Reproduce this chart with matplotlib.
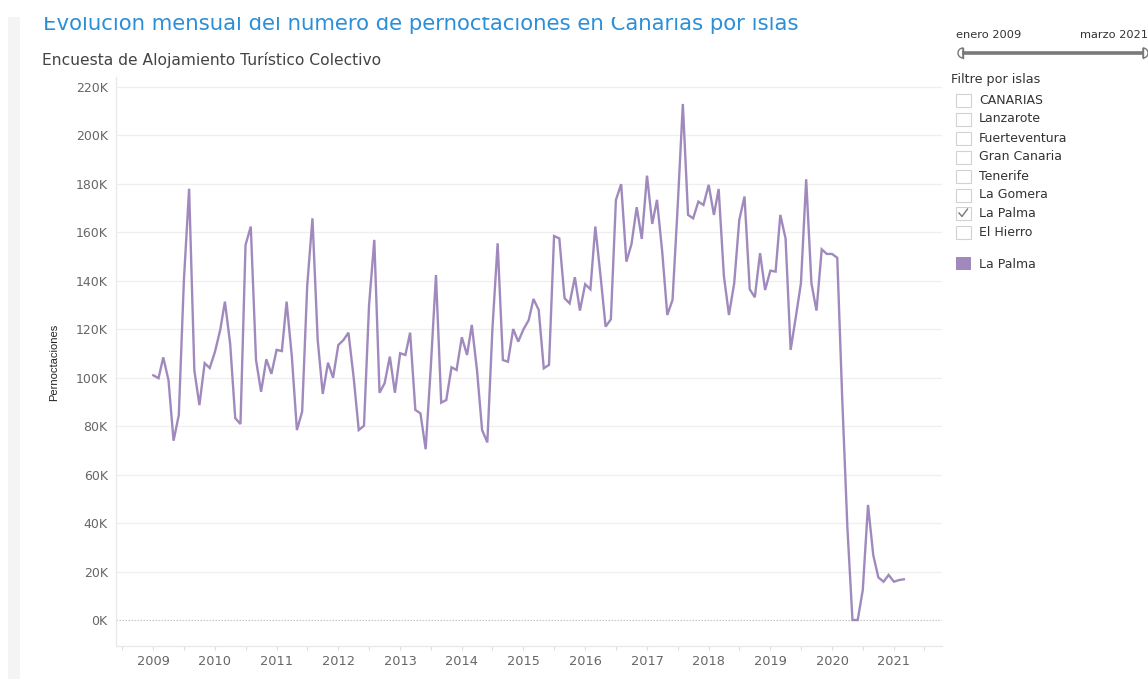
import matplotlib
matplotlib.use("Agg")
import matplotlib.pyplot as plt
import matplotlib.dates as mdates
from matplotlib.patches import Rectangle, Wedge
from matplotlib.ticker import FixedLocator, FuncFormatter
import numpy as np
import pandas as pd
from datetime import datetime

# ---------------- data (thousands of overnight stays, La Palma) ----------------
y2009 = [101.0, 99.8, 108.4, 99.0, 74.0, 84.6, 140.0, 178.0, 103.0, 88.7, 106.0, 104.0]
y2010 = [110.7, 119.7, 131.4, 114.0, 83.3, 80.9, 154.8, 162.4, 107.3, 94.2, 107.6, 101.6]
y2011 = [111.5, 111.0, 131.4, 108.7, 78.4, 86.0, 138.0, 165.8, 115.6, 93.3, 106.2, 100.0]
y2012 = [113.5, 115.6, 118.6, 100.0, 78.4, 80.2, 130.0, 156.9, 93.8, 97.7, 108.7, 93.8]
y2013 = [110.1, 109.4, 118.6, 86.7, 85.3, 70.5, 104.0, 142.4, 89.7, 90.8, 104.3, 103.2]
y2014 = [116.7, 109.4, 121.8, 103.0, 78.4, 73.3, 120.0, 155.5, 107.3, 106.6, 120.1, 114.9]
y2015 = [120.0, 123.8, 132.5, 128.0, 103.9, 105.3, 158.5, 157.5, 132.8, 130.7, 141.5, 127.7]
y2016 = [138.6, 136.5, 162.4, 142.0, 121.1, 124.1, 173.4, 179.9, 147.9, 155.1, 170.4, 157.3]
y2017 = [183.4, 163.5, 173.4, 152.0, 125.9, 132.1, 170.0, 213.0, 167.2, 165.8, 172.7, 171.3]
y2018 = [179.6, 167.2, 177.9, 142.0, 125.9, 139.0, 165.1, 174.8, 136.5, 133.2, 151.4, 136.2]
y2019 = [144.2, 143.8, 167.2, 157.5, 111.5, 125.2, 139.0, 181.9, 139.0, 127.7, 153.0, 151.1]
y2020 = [151.1, 149.5, 92.0, 38.0, 0.0, 0.0, 12.4, 47.5, 26.8, 17.6, 15.8, 18.6]
y2021 = [15.8, 16.5, 16.8]

values = np.array(y2009 + y2010 + y2011 + y2012 + y2013 + y2014 + y2015 +
                  y2016 + y2017 + y2018 + y2019 + y2020 + y2021) * 1000
months = pd.date_range("2009-01-01", periods=len(values), freq="MS")

year_labels = [str(y) for y in range(2009, 2022)]
y_ticks = list(range(0, 220001, 20000))
islands = ["CANARIAS", "Lanzarote", "Fuerteventura", "Gran Canaria",
           "Tenerife", "La Gomera", "La Palma", "El Hierro"]
checked = "La Palma"
series_name = "La Palma"

title = "Evolución mensual del número de pernoctaciones en Canarias por islas"
subtitle = "Encuesta de Alojamiento Turístico Colectivo"
y_label = "Pernoctaciones"
range_start = "enero 2009"
range_end = "marzo 2021"
filter_title = "Filtre por islas"

LINE = "#a08abd"
W, H = 1148, 679

plt.rcParams["font.family"] = ["DejaVu Sans"]
fig = plt.figure(figsize=(W / 100, H / 100), dpi=100)
fig.patch.set_facecolor("white")

# ---------------- main chart ----------------
ax_l, ax_r, ax_t, ax_b = 116, 941.7, 77, 646
ax = fig.add_axes([ax_l / W, 1 - ax_b / H, (ax_r - ax_l) / W, (ax_b - ax_t) / H])
ax.plot(months, values, color=LINE, lw=1.7, solid_joinstyle="miter", zorder=3)

t0 = mdates.date2num(datetime(2009, 1, 1))
mlen = 365.25 / 12
ax.set_xlim(t0 - 7.25 * mlen, t0 + 153.3 * mlen)
px_per_unit = (620 - 87) / 220000.0
ax.set_ylim(-(ax_b - 620) / px_per_unit, (620 - ax_t) / px_per_unit)

major = [mdates.date2num(datetime(int(y), 1, 1)) for y in year_labels]
minor = [mdates.date2num(datetime(y, 7, 1)) for y in range(2008, 2022)]
ax.xaxis.set_major_locator(FixedLocator(major))
ax.xaxis.set_minor_locator(FixedLocator(minor))
ax.set_xticklabels(year_labels)
ax.tick_params(axis="x", which="both", length=3.2, width=0.8, color="#dddddd",
               direction="out", labelsize=9.3, labelcolor="#666666", pad=3.5)

ax.set_yticks(y_ticks)
ax.yaxis.set_major_formatter(FuncFormatter(lambda v, p: f"{int(round(v / 1000))}K"))
ax.tick_params(axis="y", length=0, labelsize=9, labelcolor="#666666", pad=6)

for v in y_ticks[1:]:
    ax.axhline(v, color="#efefef", lw=0.9, zorder=1)
ax.axhline(0, color="#bdbdbd", lw=0.8, ls=(0, (1.2, 1.5)), zorder=2)

for s in ["top", "right"]:
    ax.spines[s].set_visible(False)
for s in ["left", "bottom"]:
    ax.spines[s].set_color("#e8e8e8")
    ax.spines[s].set_linewidth(0.9)

ax.set_ylabel(y_label, family="Liberation Sans", fontsize=8, color="#222222")
ax.yaxis.set_label_coords((59 - ax_l) / (ax_r - ax_l), (ax_b - 362) / (ax_b - ax_t))

# ---------------- overlay (pixel coordinates) ----------------
ov = fig.add_axes([0, 0, 1, 1], zorder=5)
ov.set_xlim(0, W)
ov.set_ylim(H, 0)
ov.axis("off")
ov.patch.set_alpha(0)

# left grey strip
ov.add_patch(Rectangle((8, 17), 12, H - 17, color="#f4f4f4", lw=0))

# title and subtitle
ov.text(43, 30, title, fontsize=15.3, color="#2b8fd8", va="baseline", ha="left")
ov.text(42, 65, subtitle, fontsize=11.2, color="#444444", va="baseline", ha="left")
# top clip band (title is cut off in the dashboard)
ov.add_patch(Rectangle((0, 0), W, 17, color="white", lw=0, zorder=10))

# date range slider
ov.text(956, 35, range_start, fontsize=8.2, color="#333333", va="center", ha="left")
ov.text(1148, 35, range_end, fontsize=8.2, color="#333333", va="center", ha="right")
ov.plot([962, 1143], [53, 53], color="#7a7a7a", lw=2.6, solid_capstyle="butt")
ov.add_patch(Wedge((963, 53), 5, 90, 270, facecolor="white", edgecolor="#777777", lw=1.0))
ov.plot([963, 963], [48, 58], color="#777777", lw=1.0)
ov.add_patch(Wedge((1143, 53), 5, -90, 90, facecolor="white", edgecolor="#777777", lw=1.0))
ov.plot([1143, 1143], [48, 58], color="#777777", lw=1.0)

# filter list
ov.text(951, 79, filter_title, fontsize=9.2, color="#333333", va="center", ha="left")
rows = [100, 119, 138, 157, 176, 195, 213.5, 232.5]
for name, yc in zip(islands, rows):
    ov.add_patch(Rectangle((956, yc - 6.5), 15, 13, facecolor="white",
                           edgecolor="#d2d2d2", lw=0.8))
    ov.text(979, yc, name, fontsize=9, color="#333333", va="center", ha="left")
    if name == checked:
        ov.plot([959, 962, 967.5], [yc - 0.5, yc + 3, yc - 4.5], color="#777777", lw=1.0)

# colour legend
ov.add_patch(Rectangle((956, 257), 15, 13, facecolor=LINE, edgecolor="none"))
ov.text(979, 264, series_name, fontsize=9, color="#333333", va="center", ha="left")

fig.savefig("out.png", dpi=100, facecolor="white")
